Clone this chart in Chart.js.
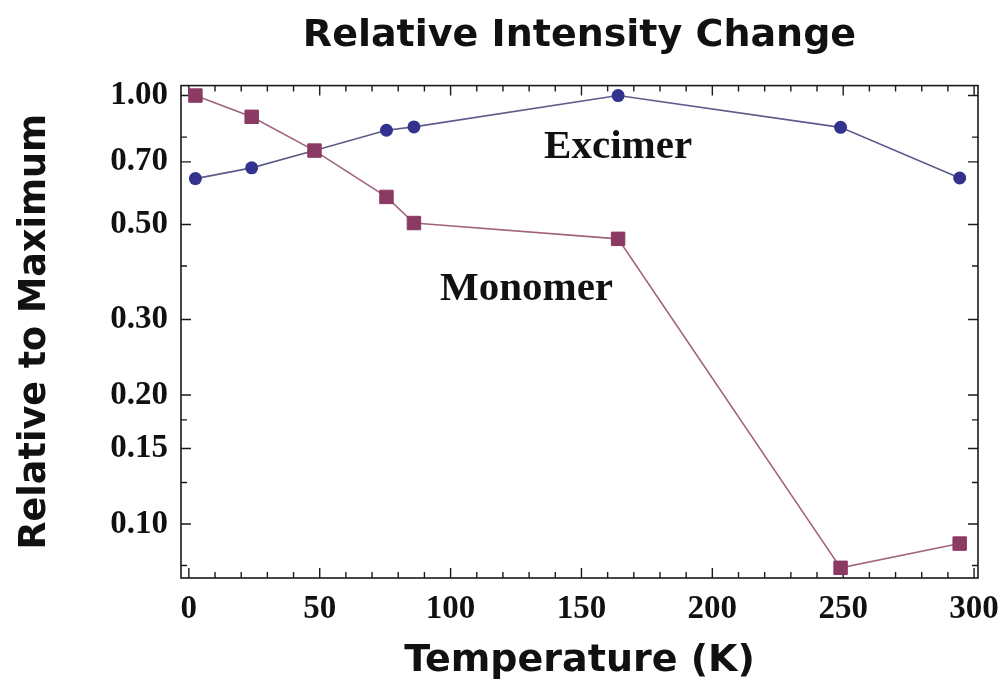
<!DOCTYPE html>
<html>
<head>
<meta charset="utf-8">
<script src="https://cdn.jsdelivr.net/npm/chart.js@4/dist/chart.umd.min.js"></script>
<style>
  html, body { margin: 0; padding: 0; background: #fff; }
  #wrap { width: 1001px; height: 688px; position: relative; }
</style>
</head>
<body>
<div id="wrap"><canvas id="c"></canvas></div>
<script>
// Temperatures (K) and intensities relative to each series' maximum
const temperatures = [2.5, 24, 48, 75.5, 86, 164, 249, 294.5];
const excimer = [0.64, 0.678, 0.744, 0.83, 0.845, 1.0, 0.843, 0.642];
const monomer = [1.0, 0.892, 0.744, 0.58, 0.504, 0.463, 0.079, 0.09];

// Axis ticks
const xMajorTicks = [0, 50, 100, 150, 200, 250, 300];
const xMinorTicks = [10, 20, 30, 40, 60, 70, 80, 90, 110, 120, 130, 140, 160, 170, 180, 190, 210, 220, 230, 240, 260, 270, 280, 290];
const yMajorTicks = [0.1, 0.15, 0.2, 0.3, 0.5, 0.7, 1.0];
const yMinorTicks = [0.08, 0.125, 0.175, 0.4, 0.8];

// Series names written inside the plot, anchored in data coordinates
const seriesNames = ['Excimer', 'Monomer'];
const seriesNameT = [164, 129];
const seriesNameV = [0.755, 0.352];

const serifBold = { family: '"Liberation Serif", "Times New Roman", serif', size: 33, weight: 'bold' };
const sansBold = { family: '"DejaVu Sans", sans-serif', size: 38, weight: 'bold' };
const sansBoldV = { family: '"DejaVu Sans", sans-serif', size: 36.5, weight: 'bold' };

// Boxed frame with inward tick marks on all four sides, plus in-plot series names
const framePlugin = {
  id: 'frameTicks',
  beforeDatasetsDraw(chart) {
    const { ctx, chartArea: a, scales: { x, y } } = chart;
    ctx.save();
    ctx.strokeStyle = '#1a1a1a';
    ctx.lineWidth = 1.6;
    ctx.strokeRect(a.left, a.top, a.right - a.left, a.bottom - a.top);
    ctx.lineWidth = 1.4;
    const tickX = (vals, len) => vals.forEach(v => {
      const px = x.getPixelForValue(v);
      ctx.beginPath();
      ctx.moveTo(px, a.bottom); ctx.lineTo(px, a.bottom - len);
      ctx.moveTo(px, a.top); ctx.lineTo(px, a.top + len);
      ctx.stroke();
    });
    const tickY = (vals, len) => vals.forEach(v => {
      const py = y.getPixelForValue(v);
      ctx.beginPath();
      ctx.moveTo(a.left, py); ctx.lineTo(a.left + len, py);
      ctx.moveTo(a.right, py); ctx.lineTo(a.right - len, py);
      ctx.stroke();
    });
    tickX(xMajorTicks, 10);
    tickX(xMinorTicks, 6);
    tickY(yMajorTicks, 10);
    tickY(yMinorTicks, 6);
    ctx.restore();
  },
  afterDatasetsDraw(chart) {
    const { ctx, scales: { x, y } } = chart;
    ctx.save();
    ctx.fillStyle = '#111';
    ctx.font = 'bold 41px "Liberation Serif", serif';
    ctx.textAlign = 'center';
    ctx.textBaseline = 'middle';
    seriesNames.forEach((name, i) => {
      ctx.fillText(name, x.getPixelForValue(seriesNameT[i]), y.getPixelForValue(seriesNameV[i]));
    });
    ctx.restore();
  }
};

new Chart(document.getElementById('c'), {
  type: 'line',
  data: {
    datasets: [
      {
        label: 'Monomer',
        data: temperatures.map((t, i) => ({ x: t, y: monomer[i] })),
        borderColor: '#a0647f',
        borderWidth: 1.6,
        pointStyle: 'rect',
        pointRadius: 9.5,
        pointBackgroundColor: '#8b3a63',
        pointBorderColor: '#8b3a63',
        pointBorderWidth: 1,
        order: 0
      },
      {
        label: 'Excimer',
        data: temperatures.map((t, i) => ({ x: t, y: excimer[i] })),
        borderColor: '#5c5c8c',
        borderWidth: 1.6,
        pointStyle: 'circle',
        pointRadius: 6.5,
        pointBackgroundColor: '#33338f',
        pointBorderColor: '#33338f',
        pointBorderWidth: 0,
        order: 1
      }
    ]
  },
  options: {
    responsive: true,
    maintainAspectRatio: false,
    animation: false,
    events: [],
    layout: { padding: { left: 0, right: 23, top: 0, bottom: 0 } },
    plugins: {
      legend: { display: false },
      tooltip: { enabled: false },
      title: {
        display: true,
        fullSize: false,
        text: 'Relative Intensity Change',
        color: '#111',
        font: sansBold,
        padding: { top: 13, bottom: 27 }
      }
    },
    scales: {
      x: {
        type: 'linear',
        min: -3,
        max: 301.5,
        grid: { display: false, drawTicks: false },
        border: { display: false },
        afterBuildTicks: s => { s.ticks = xMajorTicks.map(v => ({ value: v })); },
        afterFit: s => { s.height = 110; s.paddingLeft = 0; s.paddingRight = 0; },
        ticks: {
          autoSkip: false,
          maxRotation: 0,
          padding: 12,
          color: '#111',
          font: serifBold,
          callback: v => String(v)
        },
        title: {
          display: true,
          text: 'Temperature (K)',
          color: '#111',
          font: sansBold,
          padding: { top: 0, bottom: 4 }
        }
      },
      y: {
        type: 'logarithmic',
        min: 0.0748,
        max: 1.055,
        grid: { display: false, drawTicks: false },
        border: { display: false },
        afterBuildTicks: s => { s.ticks = yMajorTicks.map(v => ({ value: v })); },
        afterFit: s => { s.width = 181; },
        ticks: {
          autoSkip: false,
          padding: 13,
          color: '#111',
          font: serifBold,
          callback: v => Number(v).toFixed(2)
        },
        title: {
          display: true,
          text: 'Relative to Maximum',
          color: '#111',
          font: sansBoldV,
          padding: { top: 14, bottom: 0 }
        }
      }
    }
  },
  plugins: [framePlugin]
});
</script>
</body>
</html>
